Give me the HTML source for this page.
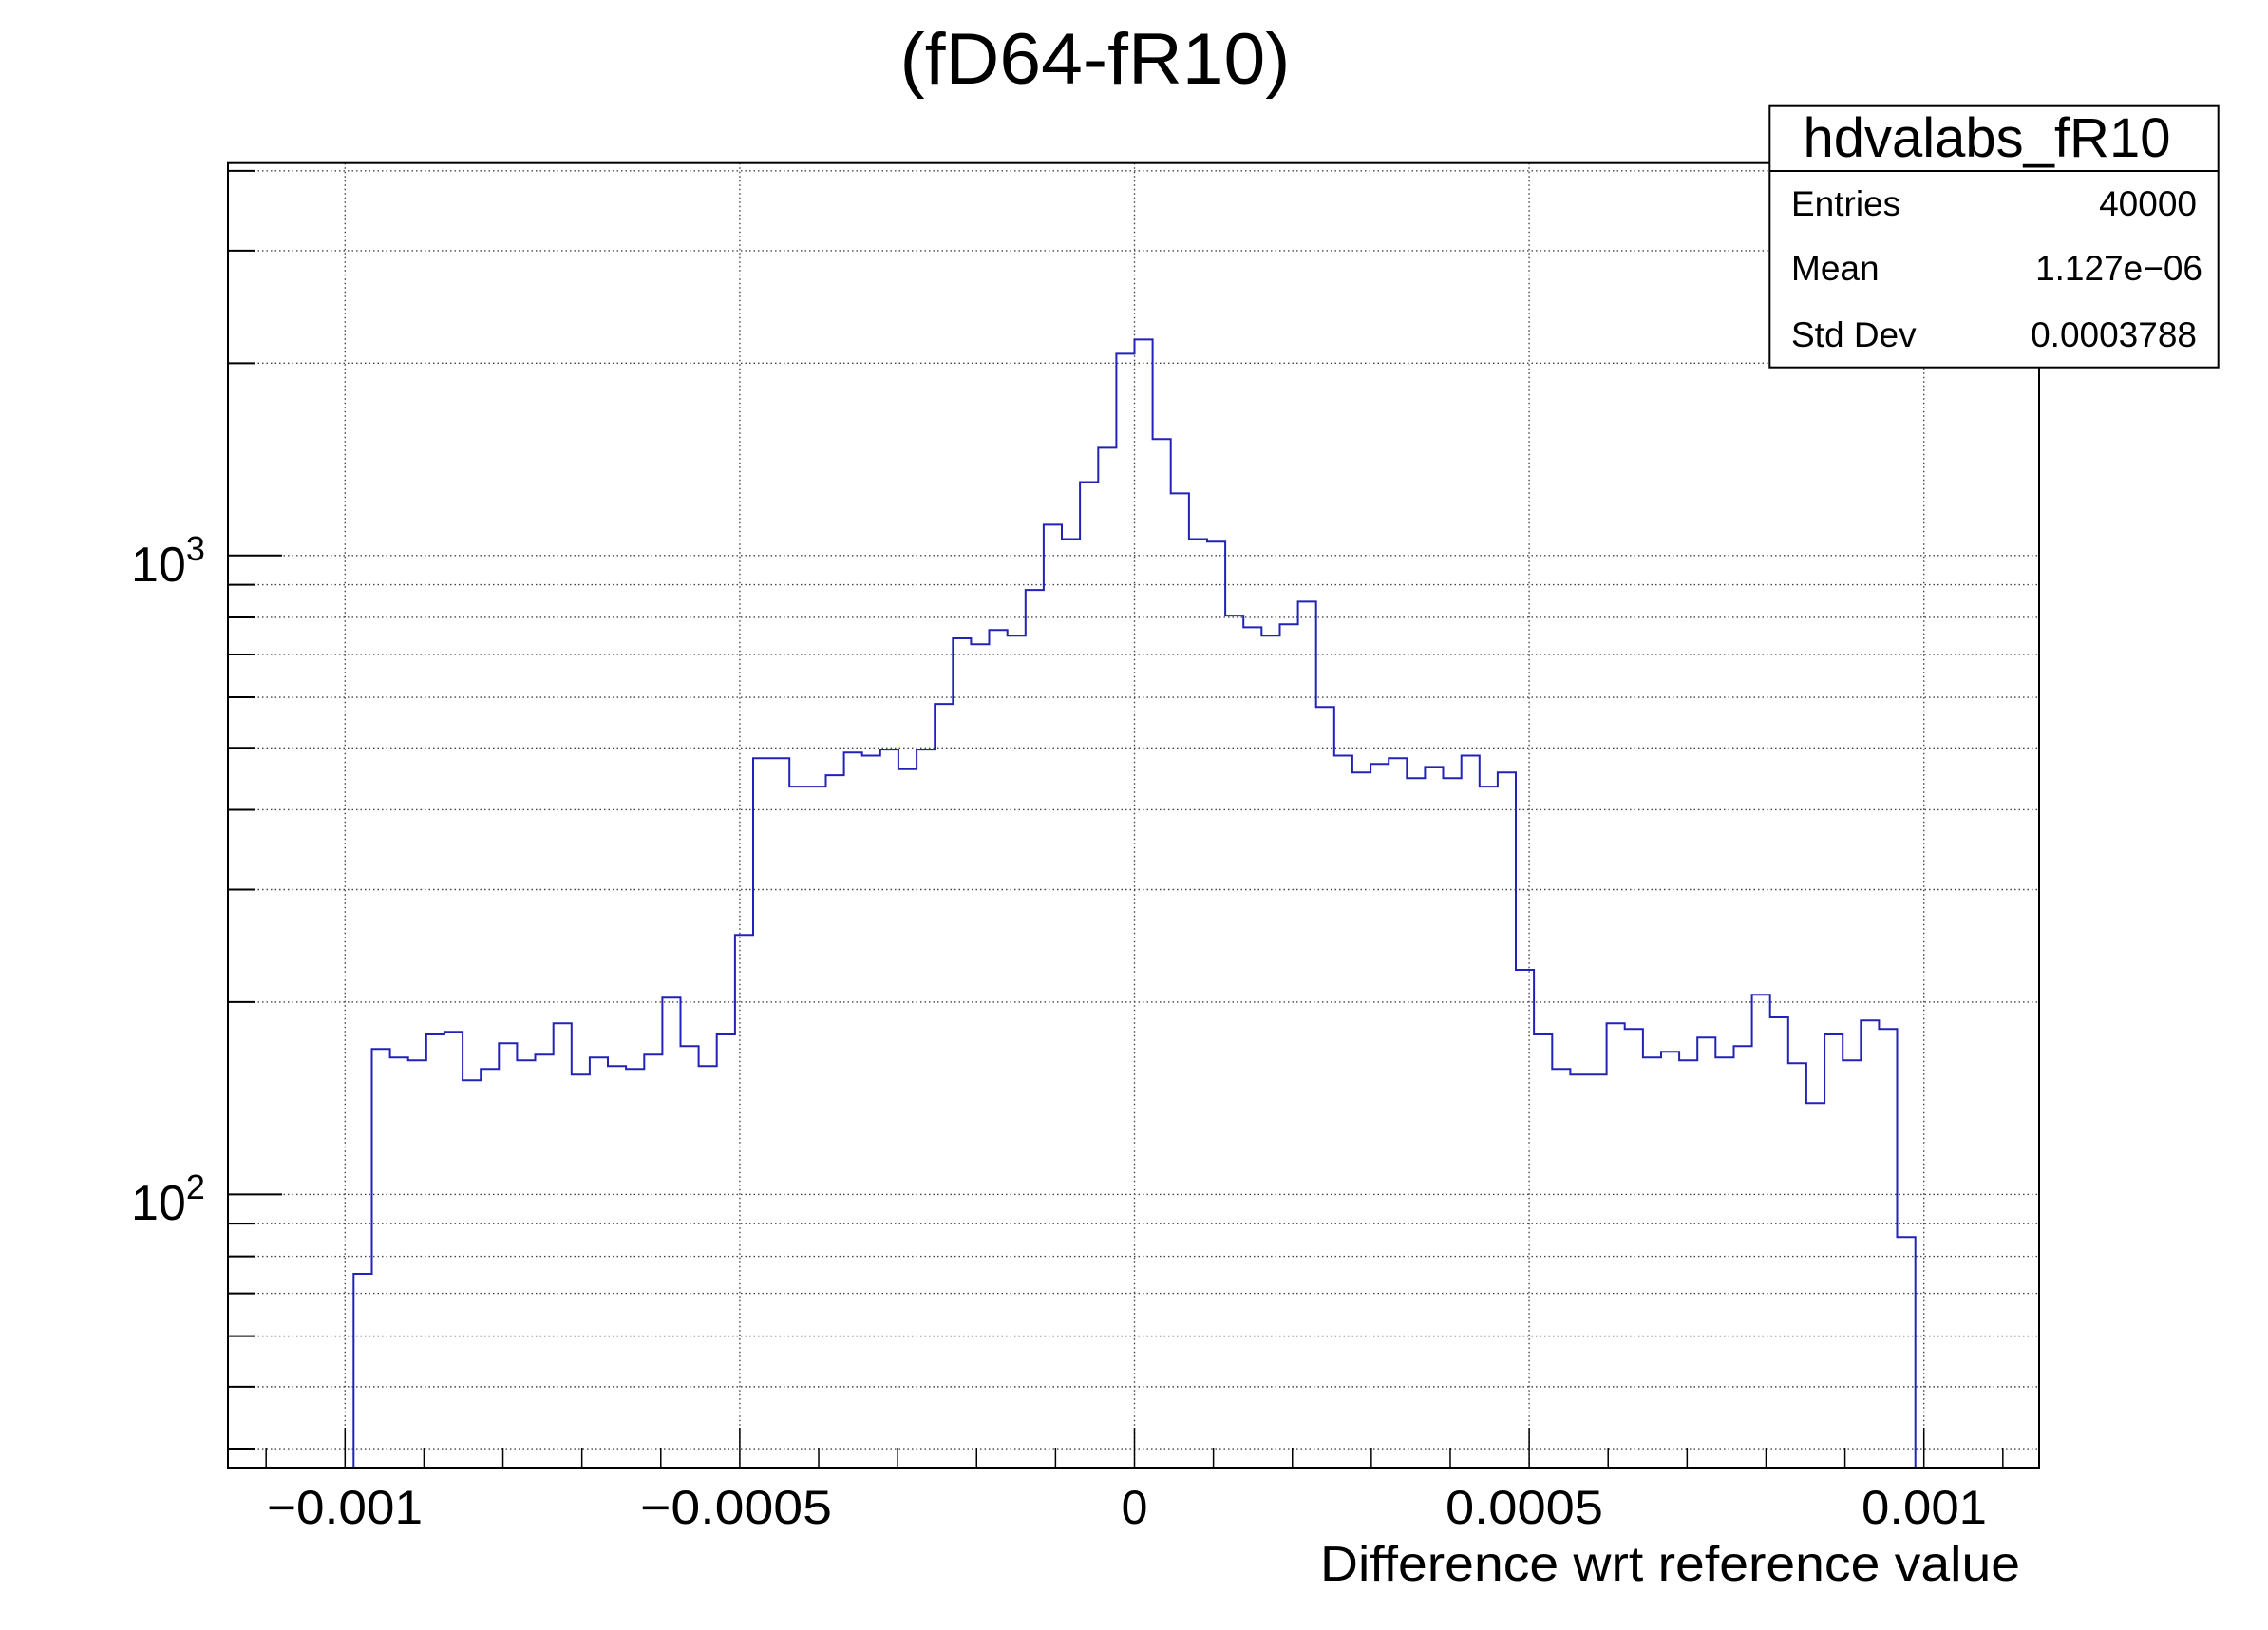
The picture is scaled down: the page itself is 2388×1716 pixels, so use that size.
<!DOCTYPE html>
<html><head><meta charset="utf-8"><style>
html,body{margin:0;padding:0;background:#fff;width:2388px;height:1716px;overflow:hidden}
svg{display:block}
text{font-family:"Liberation Sans",Arial,sans-serif;fill:#000}
</style></head><body>
<svg id="s" width="2388" height="1716" viewBox="0 0 2388 1716" xmlns="http://www.w3.org/2000/svg">
<rect x="0" y="0" width="2388" height="1716" fill="#fff"/>
<g id="grid"></g>
<g id="ticks"></g>
<path id="hist" fill="none" stroke="#2222b8" stroke-width="2"/>
<rect x="240" y="171.7" width="1907" height="1373.3" fill="none" stroke="#000" stroke-width="2"/>
<text x="1153" y="88" font-size="76" text-anchor="middle" textLength="411" lengthAdjust="spacingAndGlyphs">(fD64-fR10)</text>
<g font-size="50" text-anchor="middle">
<text x="363" y="1604" textLength="164" lengthAdjust="spacingAndGlyphs">−0.001</text>
<text x="775" y="1604" textLength="202" lengthAdjust="spacingAndGlyphs">−0.0005</text>
<text x="1194.5" y="1604">0</text>
<text x="1605" y="1604" textLength="166" lengthAdjust="spacingAndGlyphs">0.0005</text>
<text x="2026" y="1604" textLength="132" lengthAdjust="spacingAndGlyphs">0.001</text>
</g>
<text x="1390" y="1664" font-size="52" textLength="737" lengthAdjust="spacingAndGlyphs">Difference wrt reference value</text>
<text x="138" y="612" font-size="52">10<tspan dy="-22" font-size="36">3</tspan></text>
<text x="138" y="1284" font-size="52">10<tspan dy="-22" font-size="36">2</tspan></text>
<rect x="1863.3" y="111.7" width="472.4" height="275" fill="#fff" stroke="#000" stroke-width="2"/>
<line x1="1863.3" y1="180" x2="2335.7" y2="180" stroke="#000" stroke-width="2"/>
<text x="2092" y="165" font-size="58" text-anchor="middle">hdvalabs_fR10</text>
<g font-size="37">
<text x="1886" y="227">Entries</text><text x="2313" y="227" text-anchor="end">40000</text>
<text x="1886" y="295">Mean</text><text x="2319" y="295" text-anchor="end">1.127e−06</text>
<text x="1886" y="365">Std Dev</text><text x="2313" y="365" text-anchor="end">0.0003788</text>
</g>
</svg>
<script>
var NS="http://www.w3.org/2000/svg";
function el(p,t,a){var e=document.createElementNS(NS,t);for(var k in a)e.setAttribute(k,a[k]);p.appendChild(e);return e;}
var g=document.getElementById('grid'),tk=document.getElementById('ticks');
var X0=1194.5,DX=83.12,TOP=171.7,BOT=1545,LEFT=240,RIGHT=2147;
function yv(v){return 1257.4-672.6*(Math.log10(v)-2);}
[-10,-5,0,5,10].forEach(function(i){var x=X0+i*DX;el(g,'line',{x1:x,y1:TOP,x2:x,y2:BOT,stroke:'#444','stroke-width':1.4,'stroke-dasharray':'1.5,3'});});
var vals=[40,50,60,70,80,90,100,200,300,400,500,600,700,800,900,1000,2000,3000,4000];
vals.forEach(function(v){var y=yv(v);if(y<TOP||y>BOT)return;
 el(g,'line',{x1:LEFT,y1:y,x2:RIGHT,y2:y,stroke:'#444','stroke-width':1.4,'stroke-dasharray':'1.5,3'});
 var L=(v==100||v==1000)?57:28;
 el(tk,'line',{x1:LEFT,y1:y,x2:LEFT+L,y2:y,stroke:'#000','stroke-width':2});});
for(var i=-11;i<=11;i++){var x=X0+i*DX;var L=(i%5==0)?42:21;
 el(tk,'line',{x1:x,y1:BOT,x2:x,y2:BOT-L,stroke:'#000','stroke-width':1.5});}
var left=[1341,1104.3,1113.3,1116.3,1089,1086.3,1137.3,1125.3,1098.3,1116.3,1110.3,1077.3,1131.3,1113.3,1122.3,1125.3,1110.3,1050.3,1101.3,1122.3,1089,984.3,798.3,798.3,828.1,828.1,816.1,792.3,795.5,789.1,809.8,789.1,741.1,672,678.3,663.2,669.2,621.1,552.4,567.5,507.5,471.4,372.4];
var right=[357.4,462.2,519.4,567.5,570.3,648.1,660.4,669.2,657.3,633.4,744.2,795.5,813.3,804.2,798.3,819.3,807.4,819.3,795.5,828.1,813.3,1021,1089,1125.3,1131.3,1131.3,1077.3,1083.3,1113.3,1107.3,1116.3,1092.3,1113.3,1101.3,1047.3,1071,1119.3,1161.3,1089,1116.3,1074.3,1083.3,1302.3];
var bins=left.concat(right);
var w=19.12,x0=X0-43*w;
var d="M"+x0.toFixed(1)+","+BOT;
for(var i=0;i<bins.length;i++){var xa=x0+i*w,xb=xa+w;d+=" L"+xa.toFixed(1)+","+bins[i]+" L"+xb.toFixed(1)+","+bins[i];}
d+=" L"+(x0+bins.length*w).toFixed(1)+","+BOT;
document.getElementById('hist').setAttribute('d',d);
</script>
</body></html>
